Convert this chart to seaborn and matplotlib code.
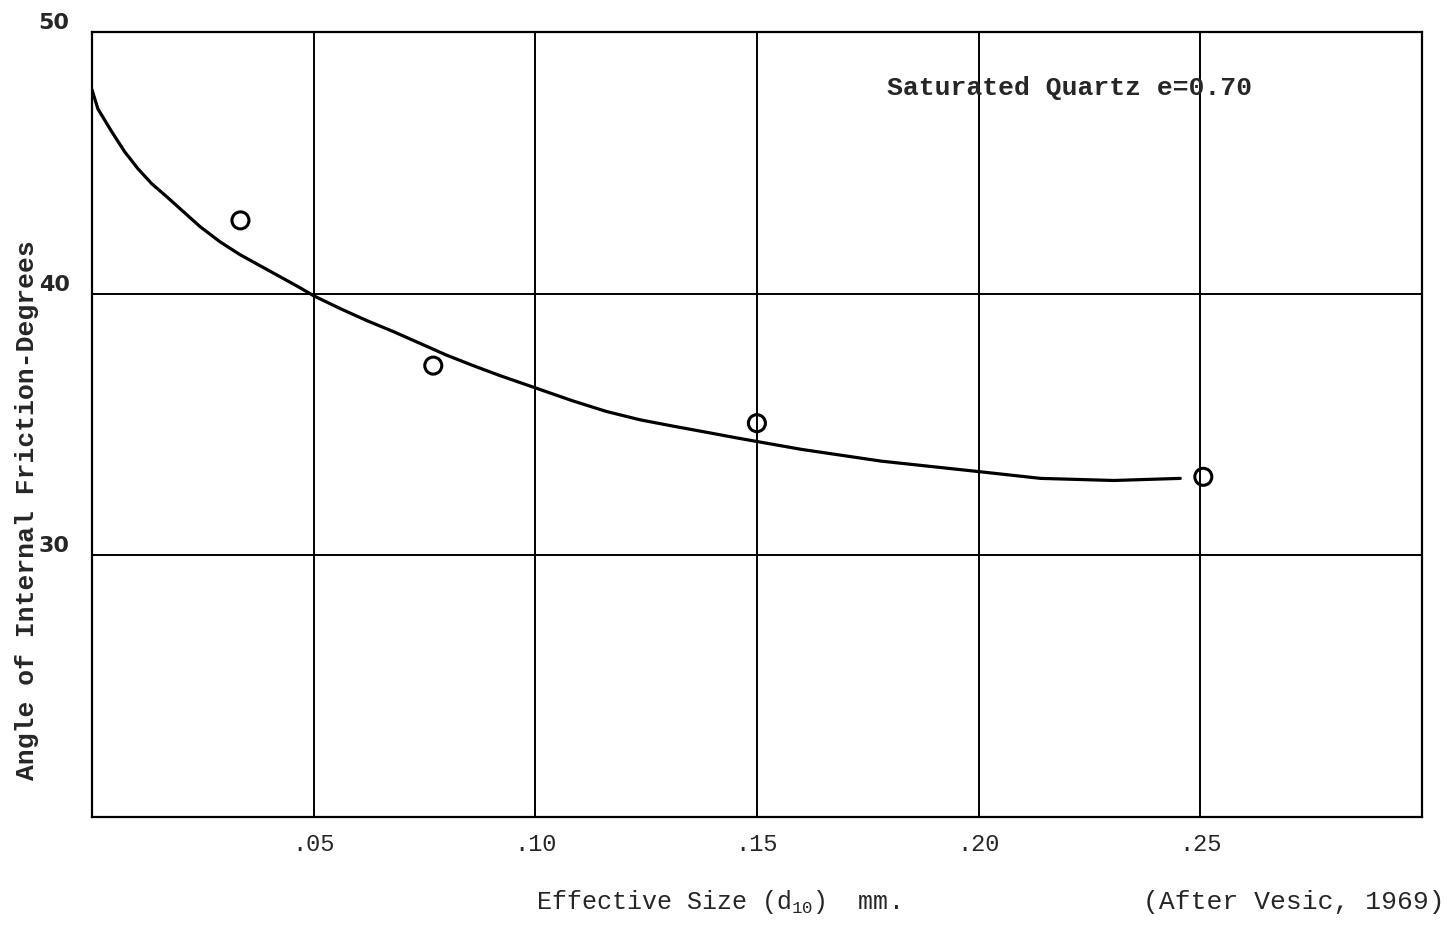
import matplotlib.pyplot as plt
import seaborn as sns
import pandas as pd

# measured points (effective size d10 in mm, friction angle in degrees)
d10_pts = [0.0335, 0.077, 0.150, 0.2507]
phi_pts = [42.8, 37.25, 35.05, 33.0]

# hand-drawn trend curve
curve_x = [0.0, 0.00135, 0.0045, 0.0074, 0.0104, 0.0135, 0.0169, 0.0244,
           0.0289, 0.0334, 0.0379, 0.0424, 0.0469, 0.050, 0.056, 0.062,
           0.068, 0.074, 0.080, 0.086, 0.092, 0.100, 0.1085, 0.116, 0.1236,
           0.131, 0.1387, 0.146, 0.150, 0.160, 0.178, 0.200, 0.214, 0.2305,
           0.2455]
curve_y = [47.8, 47.06, 46.18, 45.42, 44.77, 44.2, 43.7, 42.56,
           41.98, 41.49, 41.07, 40.65, 40.23, 39.92, 39.43, 38.97,
           38.55, 38.1, 37.65, 37.25, 36.87, 36.4, 35.9, 35.5, 35.18,
           34.94, 34.7, 34.47, 34.35, 34.05, 33.6, 33.2, 32.94, 32.86,
           32.94]

x_ticks = [0.05, 0.10, 0.15, 0.20, 0.25]
x_labels = ['.05', '.10', '.15', '.20', '.25']
y_ticks = [30, 40, 50]

pts = pd.DataFrame({'d10': d10_pts, 'phi': phi_pts})
curve = pd.DataFrame({'d10': curve_x, 'phi': curve_y})

sns.set_style('white')
plt.rcParams['font.family'] = ['Liberation Mono', 'DejaVu Sans']
plt.rcParams['mathtext.fontset'] = 'custom'
plt.rcParams['mathtext.rm'] = 'Liberation Mono'
plt.rcParams['mathtext.it'] = 'Liberation Mono'

fig = plt.figure(figsize=(14.5, 9.29), dpi=100)
ax = fig.add_axes([0.0634, 0.1195, 0.9172, 0.845])

sns.lineplot(data=curve, x='d10', y='phi', color='black', linewidth=2.3,
             sort=False, estimator=None, ax=ax)
sns.scatterplot(data=pts, x='d10', y='phi', s=150, marker='o',
                facecolor='none', edgecolor='black', linewidth=2.2,
                zorder=5, ax=ax)

ax.set_xlim(0, 0.30)
ax.set_ylim(20, 50)
ax.set_xticks(x_ticks)
ax.set_xticklabels(x_labels, fontsize=17)
ax.set_yticks(y_ticks)
ax.set_yticklabels([str(t) for t in y_ticks], fontsize=16, fontweight='bold',
                   family='DejaVu Sans')
for lab in ax.get_yticklabels():
    lab.set_va('bottom')
ax.tick_params(axis='x', length=0, pad=11)
ax.tick_params(axis='y', length=0, pad=16)
ax.grid(True, color='black', linewidth=1.4)
for s in ax.spines.values():
    s.set_color('black')
    s.set_linewidth(1.6)
ax.set_xlabel('')
ax.set_ylabel('')

ax.text(0.2205, 47.9, 'Saturated Quartz e=0.70', fontsize=19, fontweight='bold',
        ha='center', va='center')

fig.text(0.0186, 0.451, 'Angle of Internal Friction-Degrees', rotation=90,
         fontsize=19, fontweight='bold', ha='center', va='center')
fig.text(0.370, 0.022, 'Effective Size (d$_{10}$)  mm.', fontsize=18,
         ha='left', va='baseline')
fig.text(0.996, 0.022, '(After Vesic, 1969)', fontsize=19,
         ha='right', va='baseline')

plt.savefig('out.png', dpi=100)
